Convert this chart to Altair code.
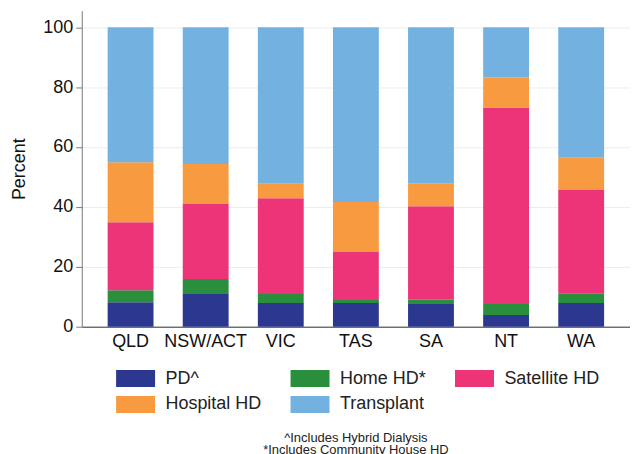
import altair as alt
import pandas as pd

states = ["QLD", "NSW/ACT", "VIC", "TAS", "SA", "NT", "WA"]
modalities = ["PD^", "Home HD*", "Satellite HD", "Hospital HD", "Transplant"]
colors = ["#2c378f", "#2a8f3d", "#ed3479", "#f79a40", "#72b1e0"]

pd_vals = [8.2, 10.9, 7.9, 7.9, 7.6, 3.9, 7.9]
home_vals = [4.0, 5.0, 3.0, 1.0, 1.4, 3.7, 3.3]
sat_vals = [22.7, 25.1, 32.0, 16.0, 31.2, 65.6, 34.4]
hosp_vals = [20.0, 13.3, 4.8, 16.7, 7.7, 10.0, 10.8]
trans_vals = [45.1, 45.7, 52.3, 58.4, 52.1, 16.8, 43.6]

series = [pd_vals, home_vals, sat_vals, hosp_vals, trans_vals]
rows = []
for mi, (m, vals) in enumerate(zip(modalities, series)):
    for s, v in zip(states, vals):
        rows.append({"State": s, "Modality": m, "Percent": v, "order": mi})
df = pd.DataFrame(rows)

FONT = "Liberation Sans"

legend = alt.Legend(
    title=None,
    orient="none",
    legendX=45,
    legendY=360,
    direction="horizontal",
    columns=3,
    symbolType="M-2.3,-1H2.3V1H-2.3Z",
    symbolSize=289,
    symbolStrokeWidth=0,
    symbolOpacity=1,
    labelFont=FONT,
    labelFontSize=18,
    labelColor="#222222",
    labelOffset=21,
    columnPadding=28,
    rowPadding=8,
    padding=0,
    labelLimit=300,
)

chart = alt.Chart(df).mark_bar(size=46).encode(
    x=alt.X("State:N", sort=states, title=None,
            scale=alt.Scale(paddingInner=0.4, paddingOuter=0.35),
            axis=alt.Axis(labelAngle=0, ticks=False, labelFontSize=18,
                          labelFont=FONT, labelColor="#111111",
                          labelPadding=6, domainColor="#333333", grid=False)),
    y=alt.Y("Percent:Q", stack="zero", title="Percent",
            scale=alt.Scale(domain=[0, 105.5], nice=False, zero=True),
            axis=alt.Axis(values=[0, 20, 40, 60, 80, 100], labelFontSize=18,
                          labelFont=FONT, labelColor="#111111",
                          titleFontSize=18, titleFont=FONT,
                          titleFontWeight="normal", titleColor="#111111",
                          titlePadding=14, tickSize=6, tickColor="#777777",
                          domainColor="#777777", gridColor="#e6eef0",
                          labelPadding=3)),
    color=alt.Color("Modality:N", sort=modalities,
                    scale=alt.Scale(domain=modalities, range=colors),
                    legend=legend),
    order=alt.Order("order:Q", sort="ascending"),
).properties(
    width=550,
    height=317,
    padding={"left": 2, "top": 2, "right": 0, "bottom": 0},
    title=alt.TitleParams(
        text=["^Includes Hybrid Dialysis", "*Includes Community House HD"],
        orient="bottom", anchor="middle", fontSize=13, fontWeight="normal",
        font=FONT, color="#222222", lineHeight=12, offset=19,
    ),
).configure_view(stroke=None)

chart.save("out.html", embed_options={"renderer": "svg", "actions": False})
